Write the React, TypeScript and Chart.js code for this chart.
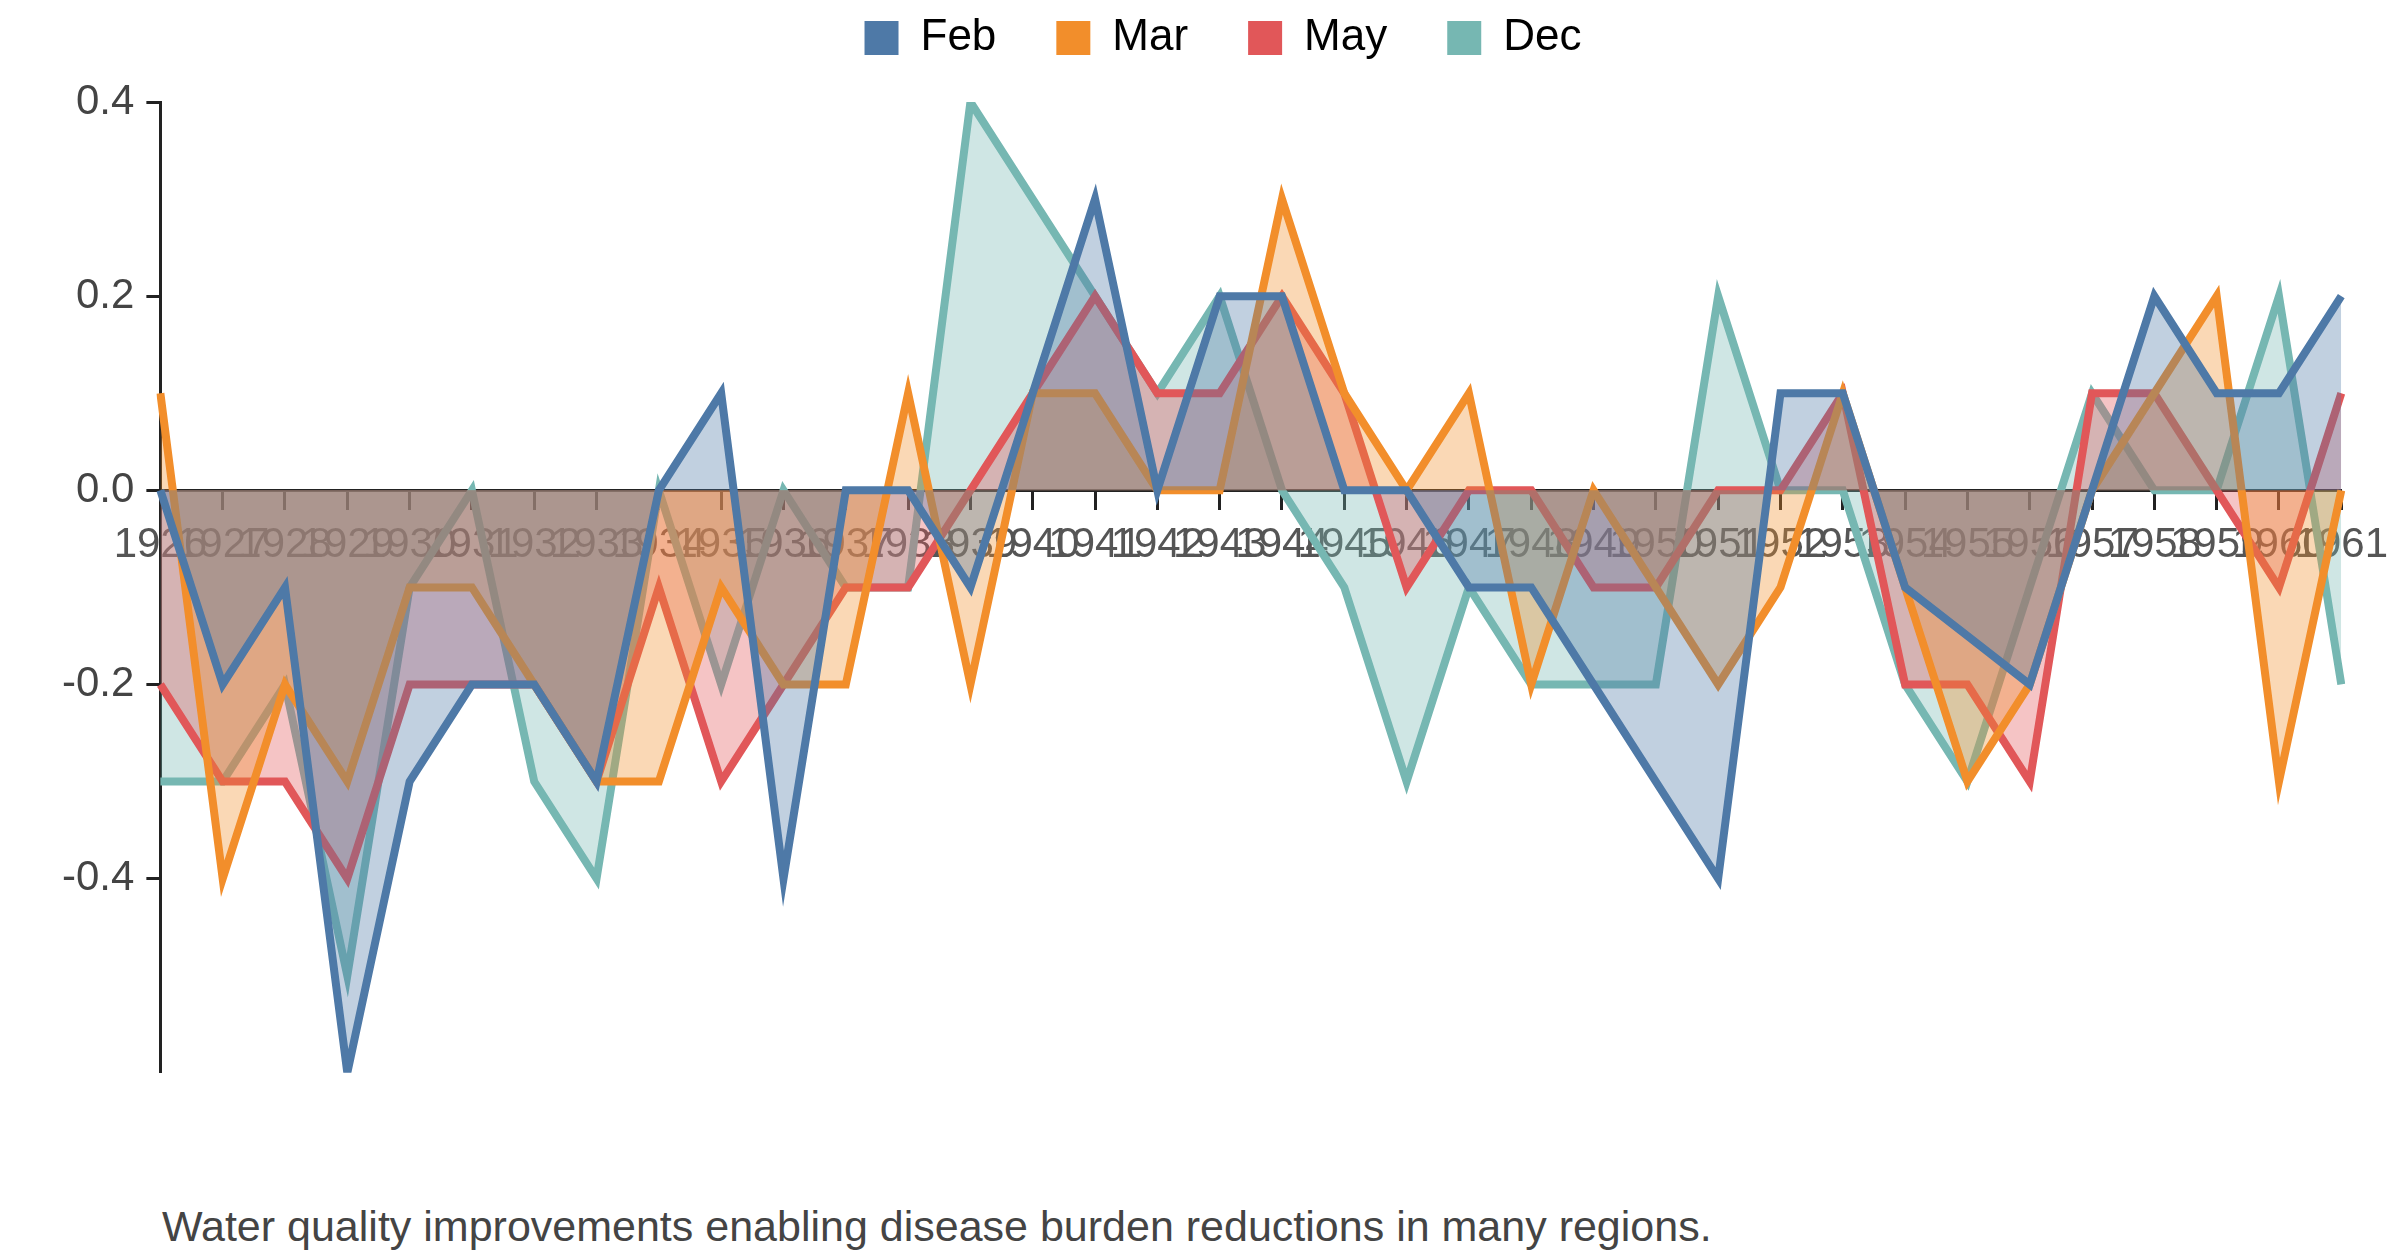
import React, { useEffect, useRef } from "react";
import { Chart, registerables } from "chart.js";

Chart.register(...registerables);

const years = Array.from({ length: 36 }, (_, i) => String(1926 + i));

const feb = [0, -0.2, -0.1, -0.6, -0.3, -0.2, -0.2, -0.3, 0, 0.1, -0.4, 0, 0, -0.1, 0.1, 0.3, 0, 0.2, 0.2, 0, 0, -0.1, -0.1, -0.2, -0.3, -0.4, 0.1, 0.1, -0.1, -0.15, -0.2, 0, 0.2, 0.1, 0.1, 0.2];
const mar = [0.1, -0.4, -0.2, -0.3, -0.1, -0.1, -0.2, -0.3, -0.3, -0.1, -0.2, -0.2, 0.1, -0.2, 0.1, 0.1, 0, 0, 0.3, 0.1, 0, 0.1, -0.2, 0, -0.1, -0.2, -0.1, 0.1, -0.1, -0.3, -0.2, 0, 0.1, 0.2, -0.3, 0];
const may = [-0.2, -0.3, -0.3, -0.4, -0.2, -0.2, -0.2, -0.3, -0.1, -0.3, -0.2, -0.1, -0.1, 0, 0.1, 0.2, 0.1, 0.1, 0.2, 0.1, -0.1, 0, 0, -0.1, -0.1, 0, 0, 0.1, -0.2, -0.2, -0.3, 0.1, 0.1, 0, -0.1, 0.1];
const dec = [-0.3, -0.3, -0.2, -0.5, -0.1, 0, -0.3, -0.4, 0, -0.2, 0, -0.1, -0.1, 0.4, 0.3, 0.2, 0.1, 0.2, 0, -0.1, -0.3, -0.1, -0.2, -0.2, -0.2, 0.2, 0, 0, -0.2, -0.3, -0.1, 0.1, 0, 0, 0.2, -0.2];

const series = [
  { label: "Feb", data: feb, color: "78,121,167" },
  { label: "Mar", data: mar, color: "242,142,43" },
  { label: "May", data: may, color: "225,87,89" },
  { label: "Dec", data: dec, color: "118,183,178" },
];

// force legend block height so the plot starts where the reference's does
const legendHeight = {
  id: "legendHeight",
  beforeInit(chart: any) {
    const legend = chart.legend;
    if (!legend) return;
    const fit = legend.fit.bind(legend);
    legend.fit = () => {
      fit();
      legend.height = 146;
    };
  },
};

export default function App() {
  const canvasRef = useRef<HTMLCanvasElement>(null);

  useEffect(() => {
    document.body.style.margin = "0";
    if (!canvasRef.current) return;
    const chart = new Chart(canvasRef.current, {
      type: "line",
      data: {
        labels: years,
        datasets: series.map((s) => ({
          label: s.label,
          data: s.data,
          borderColor: `rgb(${s.color})`,
          backgroundColor: `rgba(${s.color},0.35)`,
          borderWidth: 8,
          pointRadius: 0,
          tension: 0,
          fill: "origin",
        })),
      },
      options: {
        responsive: false,
        animation: false,
        layout: { padding: { left: 50, right: 4, top: -44, bottom: 0 } },
        plugins: {
          legend: {
            position: "top",
            labels: {
              boxWidth: 34,
              boxHeight: 34,
              padding: 60,
              color: "#222",
              font: { family: "Liberation Sans, Arial", size: 44 },
              generateLabels: (c) =>
                c.data.datasets.map((d, i) => ({
                  text: d.label as string,
                  fillStyle: d.borderColor as string,
                  strokeStyle: d.borderColor as string,
                  lineWidth: 0,
                  datasetIndex: i,
                  hidden: false,
                })),
            },
          },
          tooltip: { enabled: false },
        },
        scales: {
          x: {
            type: "category",
            offset: false,
            position: { y: 0 },
            grid: { drawOnChartArea: false, tickLength: 18, tickWidth: 3, color: "#222" },
            border: { color: "#222", width: 3 },
            ticks: {
              autoSkip: false,
              maxRotation: 0,
              minRotation: 0,
              padding: 12,
              color: "#555",
              font: { family: "Liberation Sans, Arial", size: 42 },
            },
          },
          y: {
            min: -0.6,
            max: 0.4,
            afterBuildTicks: (axis) => {
              axis.ticks = [0.4, 0.2, 0, -0.2, -0.4].map((v) => ({ value: v }));
            },
            grid: { drawOnChartArea: false, tickLength: 14, tickWidth: 3, color: "#222" },
            border: { color: "#222", width: 3 },
            ticks: {
              padding: 12,
              color: "#444",
              font: { family: "Liberation Sans, Arial", size: 42 },
              callback: (v) => Number(v).toFixed(1),
            },
          },
        },
      },
      plugins: [legendHeight],
    });
    return () => chart.destroy();
  }, []);

  return (
    <div style={{ position: "relative", width: 2400, height: 1256, background: "#fff" }}>
      <canvas ref={canvasRef} width={2400} height={1110} style={{ display: "block" }} />
      <div
        style={{
          position: "absolute",
          left: 162,
          top: 1202,
          fontFamily: "Liberation Sans, Arial",
          fontSize: 43,
          color: "#444",
        }}
      >
        Water quality improvements enabling disease burden reductions in many regions.
      </div>
    </div>
  );
}
